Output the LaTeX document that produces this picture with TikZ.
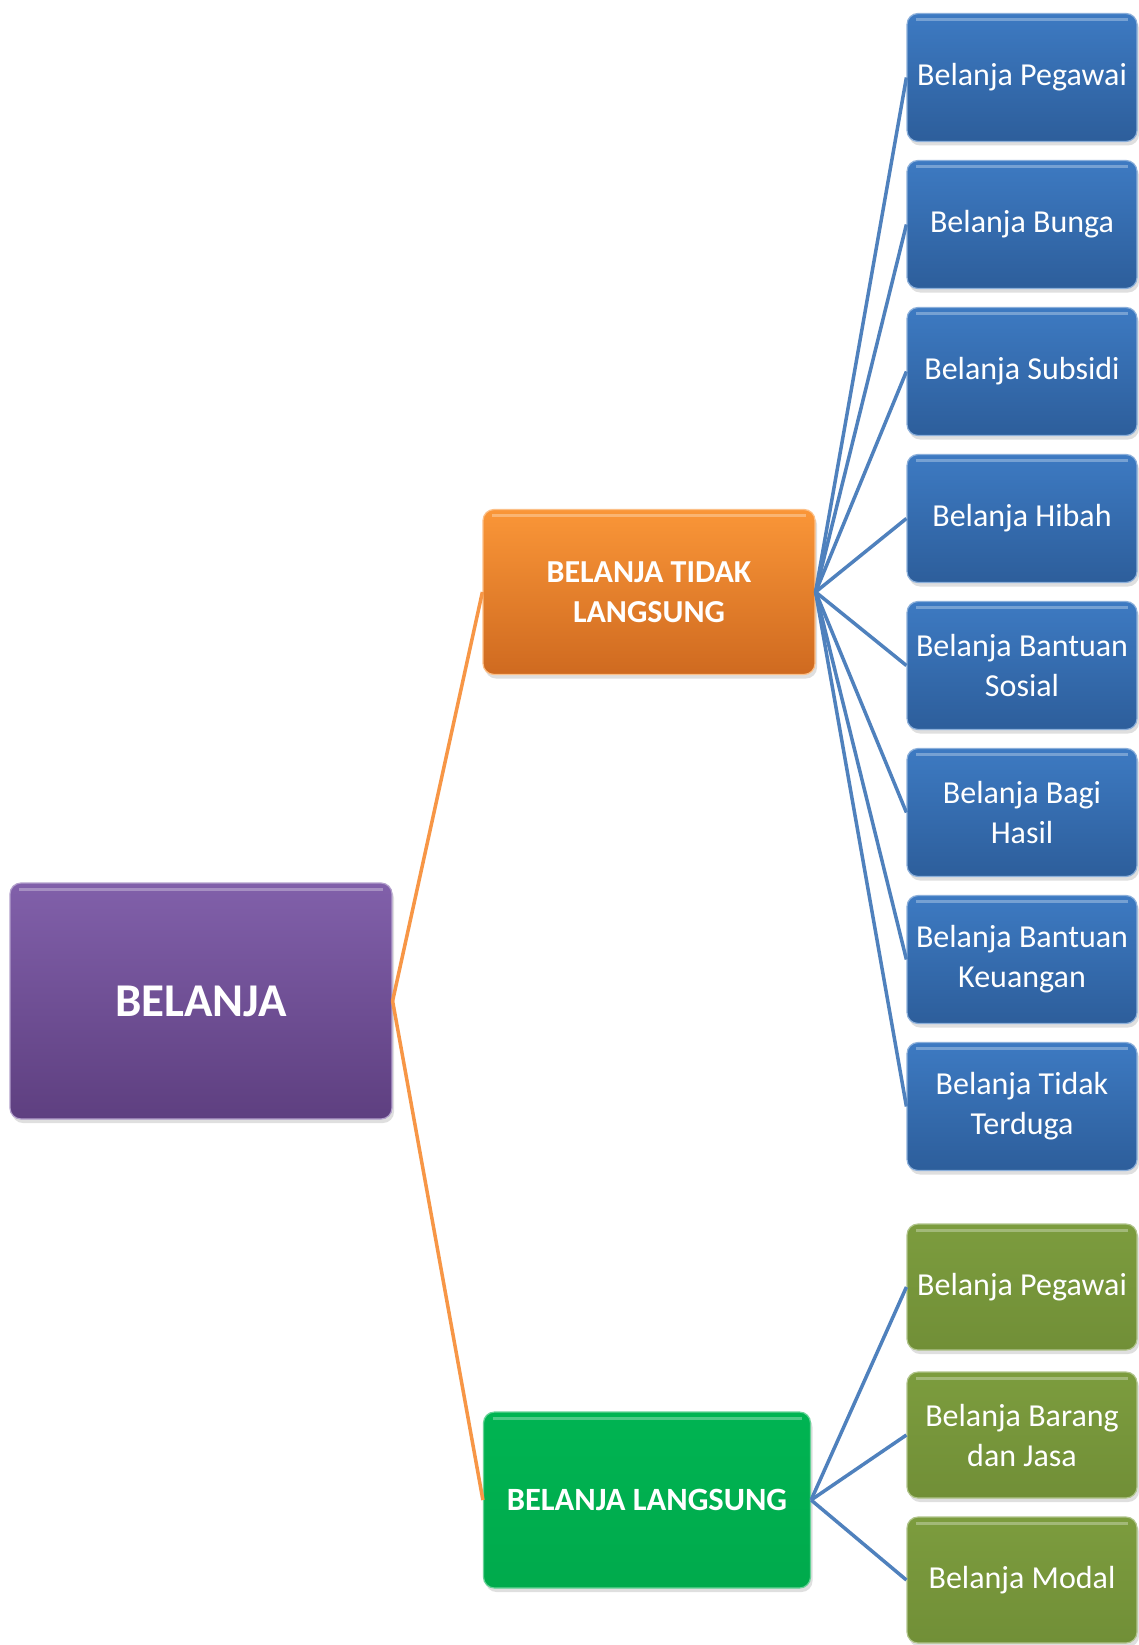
\documentclass[tikz,border=0pt]{standalone}
\usepackage{fontspec}
\setmainfont{Carlito}
\usetikzlibrary{shadows}
\definecolor{purpT}{HTML}{8160AA}
\definecolor{purpB}{HTML}{5E3F80}
\definecolor{orT}{HTML}{FA9638}
\definecolor{orB}{HTML}{CF6A20}
\definecolor{blT}{HTML}{3D7AC2}
\definecolor{blB}{HTML}{2D5E9B}
\definecolor{grT}{HTML}{00B452}
\definecolor{grB}{HTML}{00AA4C}
\definecolor{olT}{HTML}{7C9C3E}
\definecolor{olB}{HTML}{718F37}
\definecolor{orLine}{HTML}{F79646}
\definecolor{blLine}{HTML}{4F81BD}
\tikzset{
  boxbase/.style={rounded corners=11pt, align=center, text=white, inner sep=0pt,
    line width=1.2pt,
    drop shadow={shadow xshift=2pt, shadow yshift=-4pt, opacity=0.25},
    path picture={\draw[white, opacity=0.3, line width=3pt]
      ([xshift=9pt,yshift=-6pt]path picture bounding box.north west) --
      ([xshift=-9pt,yshift=-6pt]path picture bounding box.north east);}},
  rootbox/.style={boxbase, minimum width=382pt, minimum height=236pt,
    top color=purpT, bottom color=purpB, draw=purpT!60!white,
    font=\fontsize{47}{52}\selectfont\bfseries},
  midorange/.style={boxbase, minimum width=332pt, minimum height=165pt,
    top color=orT, bottom color=orB, draw=orT!60!white,
    font=\fontsize{32}{40}\selectfont\bfseries},
  midgreen/.style={boxbase, minimum width=327pt, minimum height=176pt,
    top color=grT, bottom color=grB, draw=grT!60!white,
    font=\fontsize{32.5}{40}\selectfont\bfseries},
  leafblue/.style={boxbase, minimum width=230pt, minimum height=128pt,
    top color=blT, bottom color=blB, draw=blT!60!white,
    font=\fontsize{32}{40}\selectfont},
  leafolive/.style={boxbase, minimum width=230pt, minimum height=126pt,
    top color=olT, bottom color=olB, draw=olT!60!white,
    font=\fontsize{32}{40}\selectfont},
  orconn/.style={draw=orLine, line width=3.5pt},
  blconn/.style={draw=blLine, line width=3.5pt}
}
\begin{document}
\begin{tikzpicture}[x=1pt,y=-1pt]
\useasboundingbox[fill=white] (0,0) rectangle (1139,1645);

\node[rootbox] (root) at (201,1001) {BELANJA};
\node[midorange] (btl) at (649,592) {BELANJA TIDAK\\LANGSUNG};
\node[midgreen] (bl) at (647,1500) {BELANJA LANGSUNG};

\node[leafblue] (b1) at (1022,77.5) {Belanja Pegawai};
\node[leafblue] (b2) at (1022,224.5) {Belanja Bunga};
\node[leafblue] (b3) at (1022,371.5) {Belanja Subsidi};
\node[leafblue] (b4) at (1022,518.5) {Belanja Hibah};
\node[leafblue] (b5) at (1022,665.5) {Belanja Bantuan\\Sosial};
\node[leafblue] (b6) at (1022,812.5) {Belanja Bagi\\Hasil};
\node[leafblue] (b7) at (1022,959.5) {Belanja Bantuan\\Keuangan};
\node[leafblue] (b8) at (1022,1106.5) {Belanja Tidak\\Terduga};

\node[leafolive] (g1) at (1022,1287) {Belanja Pegawai};
\node[leafolive] (g2) at (1022,1435) {Belanja Barang\\dan Jasa};
\node[leafolive] (g3) at (1022,1580) {Belanja Modal};

\draw[orconn] (root.east) -- (btl.west);
\draw[orconn] (root.east) -- (bl.west);
\foreach \n in {b1,b2,b3,b4,b5,b6,b7,b8}
  \draw[blconn] (btl.east) -- (\n.west);
\foreach \n in {g1,g2,g3}
  \draw[blconn] (bl.east) -- (\n.west);
\end{tikzpicture}
\end{document}
